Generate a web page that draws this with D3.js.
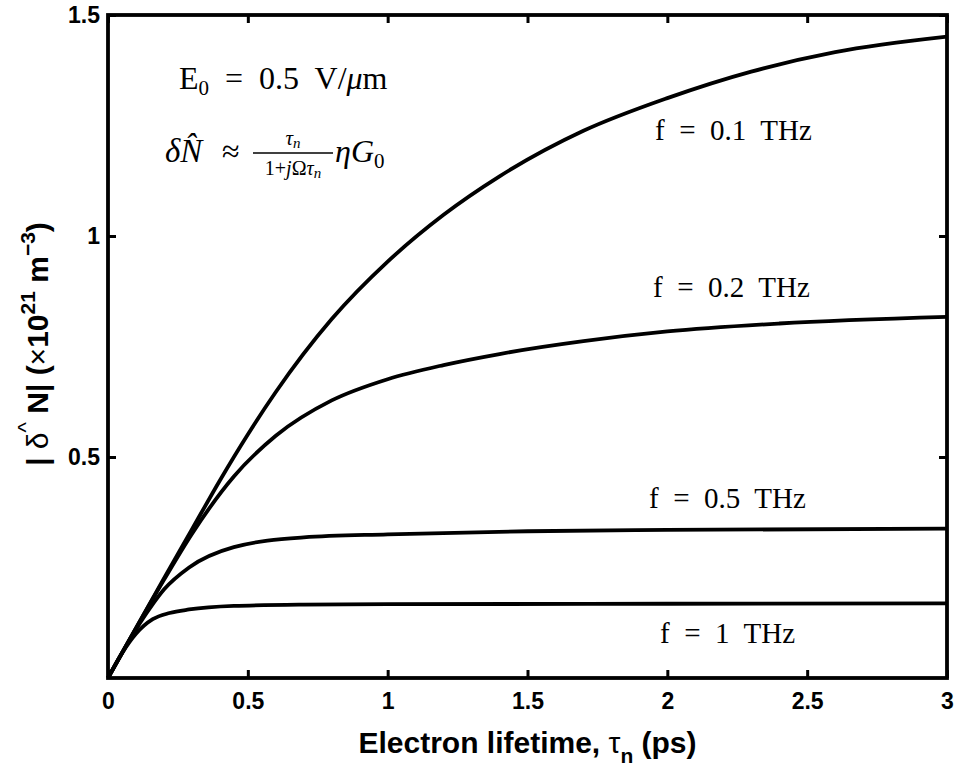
<!DOCTYPE html>
<html>
<head>
<meta charset="utf-8">
<script src="https://cdn.jsdelivr.net/npm/d3@7"></script>
<style>
  body { margin: 0; background: #fff; }
  svg { display: block; }
  .tick text { font-family: "Liberation Sans", Arial, sans-serif; font-weight: bold; font-size: 23px; fill: #000; }
  .serif { font-family: "Liberation Serif", "DejaVu Serif", serif; fill: #000; }
  .title { font-family: "Liberation Sans", Arial, sans-serif; font-weight: bold; font-size: 30px; fill: #000; }
</style>
</head>
<body>
<svg id="chart" width="959" height="771"></svg>
<script>
// tick values
const xTicks = [0, 0.5, 1, 1.5, 2, 2.5, 3];
const yTicks = [0.5, 1, 1.5];

// values: electron lifetime (ps) and |dN| (1e21 m^-3)
const tau01 = [0, 0.1, 0.2, 0.3, 0.4, 0.5, 0.6, 0.8, 1.0, 1.2, 1.4, 1.7, 2.0, 2.3, 2.6, 3.0];
const dn01  = [0, 0.113, 0.225, 0.336, 0.447, 0.551, 0.647, 0.812, 0.942, 1.048, 1.135, 1.238, 1.312, 1.372, 1.416, 1.451];

const tau02 = [0, 0.1, 0.2, 0.3, 0.45, 0.6, 0.8, 1.0, 1.2, 1.4, 1.7, 2.0, 2.4, 3.0];
const dn02  = [0, 0.113, 0.222, 0.326, 0.456, 0.548, 0.628, 0.676, 0.708, 0.733, 0.762, 0.784, 0.802, 0.817];

const tau05 = [0, 0.1, 0.15, 0.2, 0.29, 0.45, 0.7, 1.0, 1.5, 2.0, 3.0];
const dn05  = [0, 0.110, 0.158, 0.200, 0.250, 0.296, 0.318, 0.325, 0.332, 0.335, 0.338];

const tau1 = [0, 0.05, 0.1, 0.16, 0.22, 0.29, 0.45, 0.7, 1.0, 2.0, 3.0];
const dn1  = [0, 0.056, 0.100, 0.133, 0.147, 0.155, 0.163, 0.166, 0.167, 0.168, 0.169];

const seriesTau = [tau01, tau02, tau05, tau1];
const seriesDn = [dn01, dn02, dn05, dn1];

const svg = d3.select('#chart');
const plotLeft = 108, plotRight = 947, plotTop = 15, plotBottom = 678;

const x = d3.scaleLinear().domain([0, 3]).range([plotLeft, plotRight]);
const y = d3.scaleLinear().domain([0, 1.5]).range([plotBottom, plotTop]);

// curves
const line = d3.line()
  .x((d) => x(d[0]))
  .y((d) => y(d[1]))
  .curve(d3.curveMonotoneX);

svg.append('g')
  .selectAll('path')
  .data(seriesTau.map((t, i) => t.map((v, j) => [v, seriesDn[i][j]])))
  .join('path')
  .attr('d', line)
  .attr('fill', 'none')
  .attr('stroke', '#000')
  .attr('stroke-width', 3.8)
  .attr('stroke-linejoin', 'round');

// axes, ticks pointing inward on all four sides
const fmt = (d) => String(d);

svg.append('g')
  .attr('transform', `translate(0,${plotBottom})`)
  .call(d3.axisBottom(x).tickValues(xTicks).tickSize(-8).tickPadding(15).tickFormat(fmt));

svg.append('g')
  .attr('transform', `translate(0,${plotTop})`)
  .call(d3.axisTop(x).tickValues(xTicks).tickSize(-8).tickFormat(''));

svg.append('g')
  .attr('transform', `translate(${plotLeft},0)`)
  .call(d3.axisLeft(y).tickValues(yTicks).tickSize(-8).tickPadding(8).tickFormat(fmt));

svg.append('g')
  .attr('transform', `translate(${plotRight},0)`)
  .call(d3.axisRight(y).tickValues(yTicks).tickSize(-8).tickFormat(''));

svg.selectAll('.domain').remove();
svg.selectAll('.tick line').attr('stroke', '#000').attr('stroke-width', 3);

svg.append('rect')
  .attr('x', plotLeft)
  .attr('y', plotTop)
  .attr('width', plotRight - plotLeft)
  .attr('height', plotBottom - plotTop)
  .attr('fill', 'none')
  .attr('stroke', '#000')
  .attr('stroke-width', 3.8);

// axis titles
const xt = svg.append('text')
  .attr('class', 'title')
  .attr('x', (plotLeft + plotRight) / 2)
  .attr('y', 753)
  .attr('text-anchor', 'middle');
xt.append('tspan').text('Electron lifetime, ');
xt.append('tspan').attr('font-weight', 'normal').text('τ');
xt.append('tspan').attr('font-size', 21).attr('dy', 10).text('n');
xt.append('tspan').attr('dy', -10).text(' (ps)');

const yt = svg.append('text')
  .attr('class', 'title')
  .attr('transform', 'translate(48,344) rotate(-90)')
  .attr('text-anchor', 'middle');
yt.append('tspan').text('| ');
yt.append('tspan').attr('font-weight', 'normal').text('δ');
yt.append('tspan').attr('font-weight', 'normal').attr('font-size', 22).attr('dy', -15).text('^');
yt.append('tspan').attr('dy', 15).text(' N| (');
yt.append('tspan').attr('font-weight', 'normal').text('×');
yt.append('tspan').text('10');
yt.append('tspan').attr('font-size', 21).attr('dy', -13).text('21');
yt.append('tspan').attr('dy', 13).text(' m');
yt.append('tspan').attr('font-size', 21).attr('dy', -13).text('−3');
yt.append('tspan').attr('dy', 13).text(')');

// curve labels
const labels = [
  { text: 'f = 0.1 THz', x: 655, y: 140 },
  { text: 'f = 0.2 THz', x: 653, y: 297 },
  { text: 'f = 0.5 THz', x: 649, y: 508 },
  { text: 'f = 1 THz', x: 660, y: 643 },
];

svg.append('g')
  .selectAll('text')
  .data(labels)
  .join('text')
  .attr('class', 'serif')
  .attr('x', (d) => d.x)
  .attr('y', (d) => d.y)
  .attr('font-size', 29)
  .style('white-space', 'pre')
  .text((d) => d.text.replace(' = ', '  =  ').replace(' THz', '  THz'));

// field annotation
const e0 = svg.append('text')
  .attr('class', 'serif')
  .attr('x', 179)
  .attr('y', 89)
  .attr('font-size', 32)
  .style('white-space', 'pre');
e0.append('tspan').text('E');
e0.append('tspan').attr('font-size', 21).attr('dy', 6).text('0');
e0.append('tspan').attr('dy', -6).text('  =  0.5  V/');
e0.append('tspan').attr('font-style', 'italic').text('μ');
e0.append('tspan').text('m');

// formula annotation
const eq = svg.append('g').attr('class', 'serif');
eq.append('text').attr('x', 165).attr('y', 162).attr('font-size', 33)
  .attr('font-style', 'italic').text('δN\u0302');
eq.append('text').attr('x', 222).attr('y', 162).attr('font-size', 32).text('≈');

eq.append('line')
  .attr('x1', 253).attr('x2', 333)
  .attr('y1', 153).attr('y2', 153)
  .attr('stroke', '#000').attr('stroke-width', 1.5);

const num = eq.append('text').attr('x', 293).attr('y', 145).attr('font-size', 21)
  .attr('text-anchor', 'middle').attr('font-style', 'italic');
num.append('tspan').text('τ');
num.append('tspan').attr('font-size', 15).attr('dy', 3).text('n');

const den = eq.append('text').attr('x', 293).attr('y', 175).attr('font-size', 20)
  .attr('text-anchor', 'middle');
den.append('tspan').text('1+');
den.append('tspan').attr('font-style', 'italic').text('j');
den.append('tspan').text('Ω');
den.append('tspan').attr('font-style', 'italic').text('τ');
den.append('tspan').attr('font-size', 15).attr('dy', 3).attr('font-style', 'italic').text('n');

const eg = eq.append('text').attr('x', 335).attr('y', 162).attr('font-size', 32);
eg.append('tspan').attr('font-style', 'italic').text('ηG');
eg.append('tspan').attr('font-size', 21).attr('dy', 6).text('0');
</script>
</body>
</html>
